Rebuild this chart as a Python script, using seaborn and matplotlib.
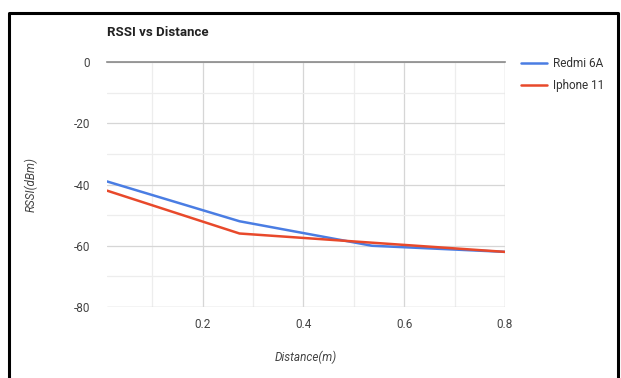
import matplotlib
matplotlib.use("Agg")
import matplotlib.pyplot as plt
from matplotlib.lines import Line2D
from matplotlib.ticker import MultipleLocator
import seaborn as sns
import pandas as pd

distance = [0.01, 0.273, 0.536, 0.8]
redmi_6a = [-39, -52, -60, -62]
iphone_11 = [-42, -56, -59, -62]
series_names = ["Redmi 6A", "Iphone 11"]
x_ticks = [0.2, 0.4, 0.6, 0.8]
y_ticks = [0, -20, -40, -60, -80]

df = pd.DataFrame({
    "Distance(m)": distance * 2,
    "RSSI(dBm)": redmi_6a + iphone_11,
    "device": [series_names[0]] * len(distance) + [series_names[1]] * len(distance),
})

sns.set_theme(style="white")
plt.rcParams["font.family"] = ["Roboto", "DejaVu Sans"]

fig = plt.figure(figsize=(6.21, 3.78), dpi=100)
ax = fig.add_axes([107 / 621, 1 - 307 / 378, (505 - 107) / 621, (307 - 62) / 378])

palette = {series_names[0]: "#4a7de3", series_names[1]: "#e8492b"}
sns.lineplot(data=df, x="Distance(m)", y="RSSI(dBm)", hue="device",
             palette=palette, linewidth=1.8, ax=ax, legend=False, zorder=3)

ax.set_xlim(distance[0], distance[-1])
ax.set_ylim(-80, 0)
ax.set_xticks(x_ticks)
ax.set_yticks(y_ticks)
ax.xaxis.set_minor_locator(MultipleLocator(0.1))
ax.yaxis.set_minor_locator(MultipleLocator(10))
ax.grid(which="major", color="#d6d6d6", linewidth=0.9)
ax.grid(which="minor", color="#ededed", linewidth=0.9)
ax.set_axisbelow(True)
for s in ["left", "right", "bottom"]:
    ax.spines[s].set_visible(False)
ax.spines["top"].set_color("#8a8a8a")
ax.spines["top"].set_linewidth(1.2)
ax.axvline(distance[-1], color="#d6d6d6", linewidth=0.9, zorder=1)
ax.axhline(-80, color="#d6d6d6", linewidth=0.9, zorder=1)

ax.tick_params(axis="both", which="both", length=0, labelsize=8.5, labelcolor="#444444")
ax.tick_params(axis="x", pad=8)
ax.tick_params(axis="y", pad=12)
ax.set_xticklabels([f"{t:.1f}" for t in x_ticks])
ax.set_yticklabels([f"{t}" for t in y_ticks])

ax.set_xlabel("Distance(m)", fontsize=8.5, style="italic", color="#444444", labelpad=14)
ax.set_ylabel("RSSI(dBm)", fontsize=8.5, style="italic", color="#444444", labelpad=26)

fig.text(107 / 621, 1 - 33 / 378, "RSSI vs Distance", fontsize=9.5, fontweight="bold",
         color="#222222", va="center", ha="left")

handles = [Line2D([0], [0], color=palette[n], linewidth=1.8) for n in series_names]
fig.legend(handles, series_names, loc="upper left", bbox_to_anchor=(521 / 621, 1 - 57 / 378),
           frameon=False, fontsize=8.5, handlelength=2.2, handletextpad=0.5,
           labelspacing=0.75, labelcolor="#333333", borderaxespad=0, borderpad=0)

# outer frame (left, top, right)
fx = [9 / 621, 9 / 621, 618 / 621, 618 / 621]
fy = [0, 1 - 13 / 378, 1 - 13 / 378, 0]
fig.add_artist(Line2D(fx, fy, color="black", linewidth=2.2, transform=fig.transFigure))

fig.savefig("out.png", dpi=100, facecolor="white")
